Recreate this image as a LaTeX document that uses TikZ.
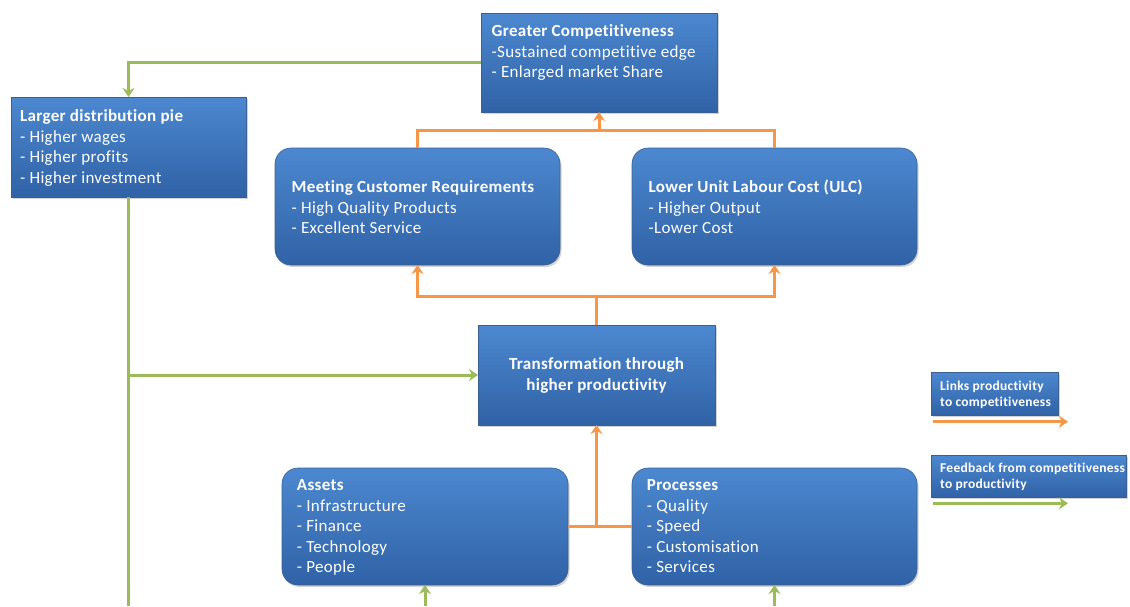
\documentclass[tikz,border=0pt]{standalone}
\usepackage{fontspec}
\setmainfont{Carlito}[Ligatures=CommonOff, LetterSpace=2]
\usetikzlibrary{arrows.meta,shadows}
\definecolor{boxtop}{RGB}{76,136,208}
\definecolor{boxbot}{RGB}{48,98,166}
\definecolor{boxline}{RGB}{58,96,146}
\definecolor{linkor}{RGB}{247,150,70}
\definecolor{feedgr}{RGB}{155,187,89}
\tikzset{
  card/.style={draw=boxline, line width=0.6pt, top color=boxtop, bottom color=boxbot,
    drop shadow={shadow xshift=1.5pt, shadow yshift=-2pt, opacity=0.35},
    inner sep=0pt, outer sep=0pt},
  roundcard/.style={card, rounded corners=16pt},
  body/.style={text=white, font=\fontsize{17}{20.5}\selectfont, align=left,
    inner sep=0pt, anchor=north west},
  keytext/.style={text=white, font=\bfseries\fontsize{13.5}{16}\selectfont, align=left,
    inner sep=0pt, anchor=north west},
  olink/.style={draw=linkor, line width=3pt},
  gfeed/.style={draw=feedgr, line width=3pt},
  tip/.style={-{Stealth[length=9pt,width=12pt]}}
}
\begin{document}
\begin{tikzpicture}[x=1pt,y=-1pt]
\useasboundingbox (0,0) rectangle (1130,606);

% boxes
\node[card, minimum width=236pt, minimum height=99pt] (gc) at (599,62.5) {};
\node[card, minimum width=235pt, minimum height=100pt] (ld) at (128.5,147) {};
\node[roundcard, minimum width=285pt, minimum height=117pt] (mc) at (417.5,206.5) {};
\node[roundcard, minimum width=285pt, minimum height=117pt] (ulc) at (774.5,206.5) {};
\node[card, minimum width=237pt, minimum height=100pt] (tr) at (596.5,375) {};
\node[roundcard, minimum width=286pt, minimum height=117pt] (as) at (425,526.5) {};
\node[roundcard, minimum width=285pt, minimum height=117pt] (pr) at (774.5,526.5) {};
\node[card, minimum width=127pt, minimum height=43pt] (lg1) at (994.5,393.5) {};
\node[card, minimum width=195pt, minimum height=42pt] (lg2) at (1028.5,476) {};

% box texts
\node[body] (gcT) at ([xshift=10.5pt,yshift=-9.2pt]gc.north west)
  {\strut\textbf{Greater Competitiveness}\\-Sustained competitive edge\\- Enlarged market Share};
\node[body] (ldT) at ([xshift=9pt,yshift=-10.4pt]ld.north west)
  {\strut\textbf{Larger distribution pie}\\- Higher wages\\- Higher profits\\- Higher investment};
\node[body] (mcT) at ([xshift=16.5pt,yshift=-30pt]mc.north west)
  {\strut\textbf{Meeting Customer Requirements}\\- High Quality Products\\- Excellent Service};
\node[body] (ulcT) at ([xshift=16.5pt,yshift=-30pt]ulc.north west)
  {\strut\textbf{Lower Unit Labour Cost (ULC)}\\- Higher Output\\-Lower Cost};
\node[text=white, font=\bfseries\fontsize{17}{21}\selectfont, align=center, inner sep=0pt]
  (trT) at (tr.center) {Transformation through\\higher productivity};
\node[body] (asT) at ([xshift=14.7pt,yshift=-8.4pt]as.north west)
  {\strut\textbf{Assets}\\- Infrastructure\\- Finance\\- Technology\\- People};
\node[body] (prT) at ([xshift=14.7pt,yshift=-8.4pt]pr.north west)
  {\strut\textbf{Processes}\\- Quality\\- Speed\\- Customisation\\- Services};
\node[keytext] (lg1T) at ([xshift=9pt,yshift=-7.5pt]lg1.north west)
  {\strut Links productivity\\to competitiveness};
\node[keytext] (lg2T) at ([xshift=9pt,yshift=-6.1pt]lg2.north west)
  {\strut Feedback from competitiveness\\to productivity};

% productivity-to-competitiveness links
\coordinate (ot) at (gc.south |- 0,130);
\draw[olink] (mc.north) |- (ot) -| (ulc.north);
\draw[olink,tip] (ot) -- (gc.south);
\coordinate (om) at (tr.north |- 0,296);
\draw[olink] (tr.north) -- (om);
\draw[olink,tip] (om) -| (mc.south);
\draw[olink,tip] (om) -| (ulc.south);
\coordinate (ob) at (tr.south |- as.east);
\draw[olink] (as.east) -- (pr.west);
\draw[olink,tip] (ob) -- (tr.south);

% feedback loop
\draw[gfeed,tip] (gc.west) -| (ld.north);
\coordinate (gend) at (ld.south |- 0,606);
\draw[gfeed] (ld.south) -- (gend);
\coordinate (gj) at (ld.south |- tr.west);
\draw[gfeed,tip] (gj) -- (tr.west);
\coordinate (ga) at (as.south |- 0,606);
\draw[gfeed,tip] (ga) -- (as.south);
\coordinate (gp) at (pr.south |- 0,606);
\draw[gfeed,tip] (gp) -- (pr.south);

% key arrows
\coordinate (k1a) at (933,421.7);
\coordinate (k1b) at (1068,421.7);
\draw[olink,tip] (k1a) -- (k1b);
\coordinate (k2a) at (933,503.3);
\coordinate (k2b) at (1068,503.3);
\draw[gfeed,tip] (k2a) -- (k2b);
\end{tikzpicture}
\end{document}
